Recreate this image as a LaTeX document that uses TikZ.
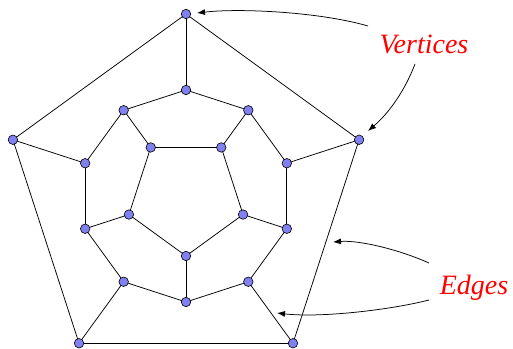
\documentclass[tikz,border=0pt]{standalone}
\usepackage{fontspec}
\setmainfont{Liberation Serif}
\usetikzlibrary{arrows.meta}
\pgfdeclarelayer{bg}
\pgfsetlayers{bg,main}
\begin{document}
\begin{tikzpicture}[x=1pt,y=1pt,
  vtx/.style={circle,draw=black,fill={rgb,255:red,128;green,128;blue,240},inner sep=0pt,minimum size=9.5pt,line width=0.6pt},
  edg/.style={line width=0.75pt},
  lbl/.style={text=red,font=\fontsize{28}{31}\selectfont\itshape,inner sep=0pt},
  arr/.style={-{Latex[length=8pt,width=6pt]},line width=0.75pt}]
\useasboundingbox (0,0) rectangle (513,348);
\begin{scope}[shift={(186,152)}]
% outer pentagon
\foreach \i/\a in {1/90,2/18,3/-54,4/-126,5/162}
  \node[vtx] (o\i) at (\a:182) {};
% middle decagon
\foreach \i/\a in {1/90,2/54,3/18,4/-18,5/-54,6/-90,7/-126,8/-162,9/162,10/126}
  \node[vtx] (m\i) at (\a:106) {};
% inner pentagon
\foreach \i/\a in {1/54,2/-18,3/-90,4/-162,5/126}
  \node[vtx] (n\i) at (\a:60) {};
\end{scope}
% edges
\begin{pgfonlayer}{bg}
\foreach \a/\b in {o1/o2,o2/o3,o3/o4,o4/o5,o5/o1,
  o1/m1,o2/m3,o3/m5,o4/m7,o5/m9,
  m1/m2,m2/m3,m3/m4,m4/m5,m5/m6,m6/m7,m7/m8,m8/m9,m9/m10,m10/m1,
  m2/n1,m4/n2,m6/n3,m8/n4,m10/n5,
  n1/n2,n2/n3,n3/n4,n4/n5,n5/n1}
  \draw[edg] (\a.center) -- (\b.center);
\end{pgfonlayer}
% labels
\node[lbl,anchor=base] (vl) at (424,294) {Vertices};
\node[lbl,anchor=base] (el) at (474,54) {Edges};
\coordinate (va) at (368,322);
\coordinate (vb) at (415,284);
\coordinate (vt1) at (197,335);
\coordinate (vt2) at (368,217);
\coordinate (ea) at (429,85);
\coordinate (eb) at (429,48);
\coordinate (et1) at (333,106);
\coordinate (et2) at (277,35);
\draw[arr] (va) .. controls (320,336) and (240,340) .. (vt1);
\draw[arr] (vb) .. controls (405,258) and (390,236) .. (vt2);
\draw[arr] (ea) .. controls (400,98) and (360,108) .. (et1);
\draw[arr] (eb) .. controls (390,38) and (320,30) .. (et2);
\end{tikzpicture}
\end{document}
